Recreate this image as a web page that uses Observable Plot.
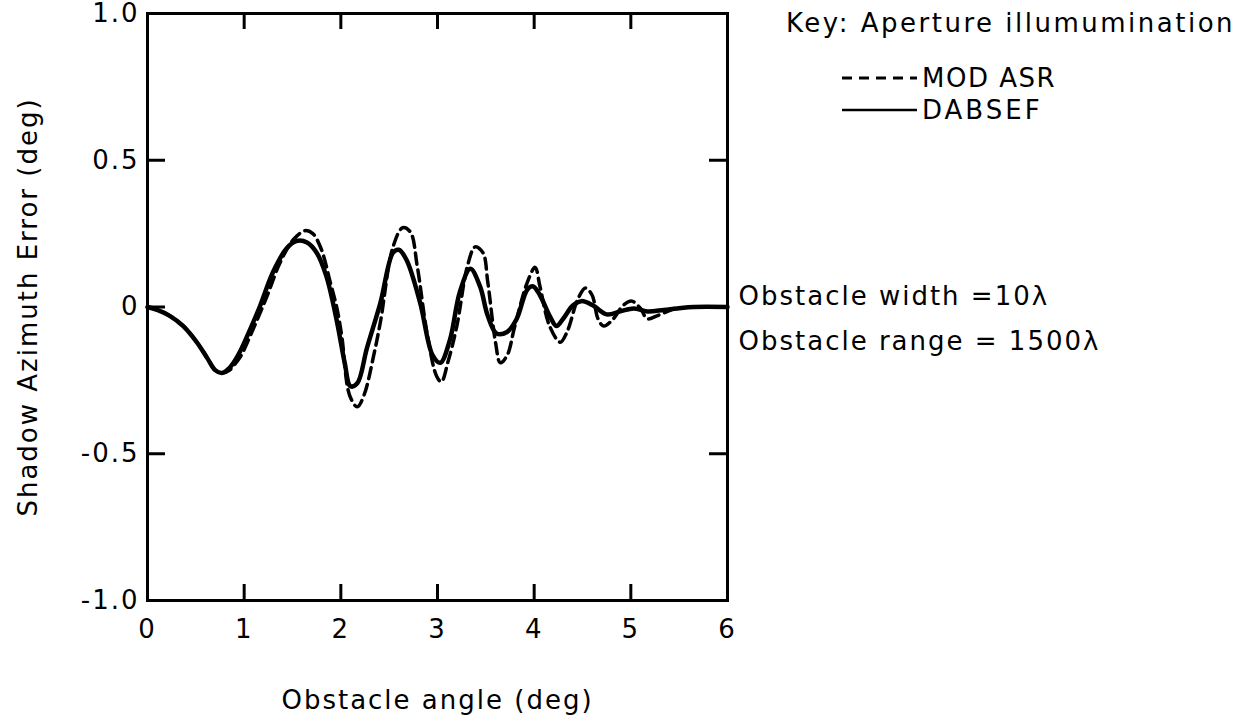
<!DOCTYPE html>
<html>
<head>
<meta charset="utf-8">
<script src="https://cdn.jsdelivr.net/npm/d3@7"></script>
<script src="https://cdn.jsdelivr.net/npm/@observablehq/plot@0.6"></script>
<style>
  html, body { margin: 0; padding: 0; background: #fff; }
  #wrap { position: relative; width: 1248px; height: 721px; font-family: "DejaVu Sans", sans-serif; color: #000; }
  #wrap svg text { letter-spacing: 2px; }
  .lg { position: absolute; font-size: 26px; line-height: 1; white-space: nowrap; letter-spacing: 2px; }
</style>
</head>
<body>
<div id="wrap"></div>
<script>
// ---- data ----
const dabsefX = [0, 0.1, 0.23, 0.37, 0.51, 0.62, 0.70, 0.77, 0.84, 0.89, 0.96, 1.03, 1.16, 1.30, 1.44, 1.54, 1.65, 1.75, 1.85, 1.96, 2.04, 2.10, 2.17, 2.27, 2.41, 2.54, 2.60, 2.68, 2.82, 2.95, 3.03, 3.13, 3.23, 3.34, 3.44, 3.52, 3.61, 3.72, 3.82, 3.93, 3.99, 4.06, 4.16, 4.23, 4.30, 4.40, 4.49, 4.61, 4.75, 4.89, 5.03, 5.17, 5.34, 5.48, 5.65, 6.0];
const dabsefY = [0, -0.01, -0.03, -0.065, -0.12, -0.175, -0.215, -0.225, -0.21, -0.19, -0.15, -0.10, 0, 0.12, 0.20, 0.225, 0.22, 0.185, 0.105, -0.05, -0.19, -0.27, -0.26, -0.14, 0.015, 0.185, 0.195, 0.16, 0.015, -0.165, -0.19, -0.11, 0.05, 0.13, 0.07, -0.03, -0.09, -0.085, -0.04, 0.06, 0.07, 0.04, -0.03, -0.065, -0.04, 0.005, 0.02, 0.005, -0.025, -0.015, -0.005, -0.015, -0.01, -0.005, 0, 0];

const modAsrX = [0, 0.1, 0.23, 0.37, 0.51, 0.62, 0.70, 0.78, 0.85, 0.89, 0.96, 1.10, 1.24, 1.37, 1.51, 1.63, 1.71, 1.80, 1.89, 1.96, 2.01, 2.09, 2.17, 2.24, 2.34, 2.41, 2.54, 2.64, 2.72, 2.79, 2.89, 2.99, 3.04, 3.11, 3.20, 3.31, 3.39, 3.47, 3.52, 3.60, 3.65, 3.72, 3.80, 3.93, 4.01, 4.06, 4.16, 4.27, 4.34, 4.45, 4.53, 4.60, 4.66, 4.72, 4.82, 4.92, 5.01, 5.10, 5.17, 5.27, 5.38, 5.45];
const modAsrY = [0, -0.01, -0.03, -0.065, -0.12, -0.175, -0.215, -0.225, -0.215, -0.20, -0.17, -0.07, 0.04, 0.15, 0.23, 0.26, 0.25, 0.195, 0.085, -0.005, -0.10, -0.30, -0.34, -0.30, -0.165, -0.05, 0.205, 0.27, 0.255, 0.14, -0.085, -0.235, -0.255, -0.185, -0.065, 0.14, 0.205, 0.185, 0.085, -0.12, -0.19, -0.165, -0.065, 0.085, 0.135, 0.07, -0.065, -0.12, -0.085, 0.025, 0.065, 0.04, -0.04, -0.065, -0.04, 0.005, 0.02, -0.005, -0.04, -0.03, -0.015, -0.005];

const xTicks = [0, 1, 2, 3, 4, 5, 6];
const xInnerTicks = [1, 2, 3, 4, 5];
const yTicks = [-1, -0.5, 0, 0.5, 1];
const yTickLabels = ["-1.0", "-0.5", "0", "0.5", "1.0"];
const yInnerTicks = [-0.5, 0, 0.5];

const xLabel = "Obstacle angle (deg)";
const yLabel = "Shadow Azimuth Error (deg)";
const notes = ["Obstacle width =10\u03bb", "Obstacle range = 1500\u03bb"];
const keyTitle = "Key: Aperture illumumination";
const seriesNames = ["MOD ASR", "DABSEF"];

// ---- build ----
const dabsef = dabsefX.map((x, i) => ({x, y: dabsefY[i]}));
const modAsr = modAsrX.map((x, i) => ({x, y: modAsrY[i]}));

const W = 1248, H = 721;
const mL = 147, mR = 521, mT = 13, mB = 121;
const pw = W - mL - mR, ph = H - mT - mB;

const chart = Plot.plot({
  width: W, height: H,
  marginLeft: mL, marginRight: mR, marginTop: mT, marginBottom: mB,
  x: {domain: [0, 6]},
  y: {domain: [-1, 1]},
  style: {fontFamily: "DejaVu Sans, sans-serif", fontSize: "26px", color: "#000", background: "#fff", overflow: "visible"},
  marks: [
    Plot.axisX({ticks: xTicks, tickSize: 0, tickPadding: 19, tickFormat: d => String(d), fontSize: 26, label: null}),
    Plot.axisY({ticks: yTicks, tickSize: 0, tickPadding: 8, tickFormat: d => yTickLabels[yTicks.indexOf(d)], fontSize: 26, label: null}),
    Plot.tickX(xInnerTicks, {x: d => d, insetTop: ph - 16, strokeWidth: 3, stroke: "#000"}),
    Plot.tickX(xInnerTicks, {x: d => d, insetBottom: ph - 16, strokeWidth: 3, stroke: "#000"}),
    Plot.tickY(yInnerTicks, {y: d => d, insetRight: pw - 18, strokeWidth: 3, stroke: "#000"}),
    Plot.tickY(yInnerTicks, {y: d => d, insetLeft: pw - 18, strokeWidth: 3, stroke: "#000"}),
    Plot.line(modAsr, {x: "x", y: "y", curve: "catmull-rom", stroke: "#000", strokeWidth: 3.5, strokeDasharray: "11,6"}),
    Plot.line(dabsef, {x: "x", y: "y", curve: "catmull-rom", stroke: "#000", strokeWidth: 4.5}),
    Plot.frame({stroke: "#000", strokeWidth: 3}),
    Plot.text([xLabel], {frameAnchor: "bottom", textAnchor: "middle", dy: 100, lineAnchor: "middle", fontSize: 26, fill: "#000"}),
    Plot.text([yLabel], {frameAnchor: "left", textAnchor: "middle", dx: -119, rotate: -90, lineAnchor: "middle", fontSize: 26, fill: "#000"}),
    Plot.text([notes.join("\n")], {frameAnchor: "right", textAnchor: "start", dx: 11, dy: 6, lineHeight: 1.75, lineAnchor: "middle", fontSize: 26, fill: "#000"})
  ]
});

const wrap = document.getElementById("wrap");
wrap.appendChild(chart);

// legend overlay
function addDiv(text, left, centerY, ls) {
  const d = document.createElement("div");
  d.className = "lg";
  d.textContent = text;
  d.style.left = left + "px";
  d.style.top = (centerY - 13) + "px";
  if (ls) d.style.letterSpacing = ls;
  wrap.appendChild(d);
}
addDiv(keyTitle, 786, 23, "2.5px");
addDiv(seriesNames[0], 922, 78, "1.5px");
addDiv(seriesNames[1], 922, 110, "3px");

const ns = "http://www.w3.org/2000/svg";
const lsvg = document.createElementNS(ns, "svg");
lsvg.setAttribute("width", 90); lsvg.setAttribute("height", 60);
lsvg.style.position = "absolute"; lsvg.style.left = "835px"; lsvg.style.top = "60px";
[[78, "10,7", 3], [110, null, 2.5]].forEach(([cy, dash, sw]) => {
  const l = document.createElementNS(ns, "line");
  l.setAttribute("x1", 7); l.setAttribute("x2", 82);
  l.setAttribute("y1", cy - 60); l.setAttribute("y2", cy - 60);
  l.setAttribute("stroke", "#000"); l.setAttribute("stroke-width", sw);
  if (dash) l.setAttribute("stroke-dasharray", dash);
  lsvg.appendChild(l);
});
wrap.appendChild(lsvg);
</script>
</body>
</html>
